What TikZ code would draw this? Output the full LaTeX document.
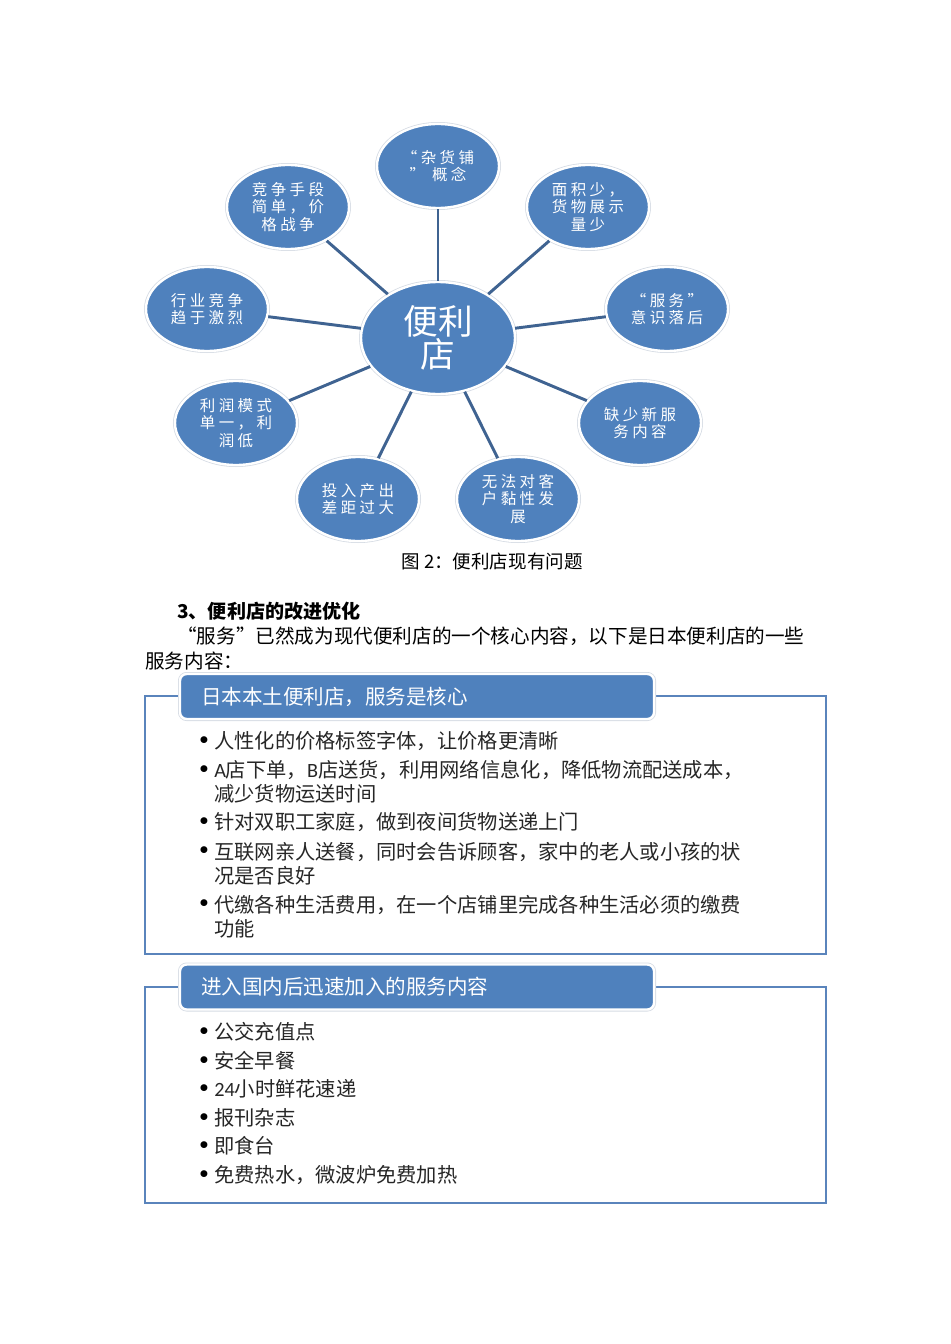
\documentclass[tikz,border=0pt]{standalone}
\usepackage{fontspec}
\setmainfont{Liberation Serif}
\newfontfamily\cjk{Noto Sans CJK SC}
\newfontfamily\cjkwide[LetterSpace=22]{Noto Sans CJK SC}
\newfontfamily\latin{Carlito}
\usetikzlibrary{shapes.geometric,positioning,calc}
\definecolor{blob}{HTML}{4F81BD}
\definecolor{spoke}{HTML}{3F6391}
\definecolor{frame}{HTML}{5A84BC}
\definecolor{body}{HTML}{262626}
\definecolor{glow}{HTML}{D6DCE4}

\begin{document}
\begin{tikzpicture}[
  x=0.75pt, y=-0.75pt,
  rim/.style={preaction={draw=glow, line width=3pt}, draw=white, line width=1.8pt},
  hub/.style={ellipse, rim, fill=blob, inner sep=0pt, minimum width=115.5pt, minimum height=84pt,
    align=center, text=white, font=\cjk\fontsize{26}{25}\selectfont},
  issue/.style={ellipse, rim, fill=blob, inner sep=0pt, minimum width=91.5pt, minimum height=63pt,
    align=center, text=white, font=\cjkwide\fontsize{11.6}{13}\selectfont},
  spoke/.style={draw=spoke, line width=2.2pt},
  txt/.style={inner sep=0pt, text=black, font=\cjk\fontsize{14.7}{17}\selectfont},
  panel/.style={draw=frame, line width=1.9pt, minimum width=510.75pt},
  tab/.style={rounded corners=5pt, rim, fill=blob, minimum width=355.5pt, minimum height=33.75pt,
    text width=324pt, inner xsep=15.75pt, align=left, text=white, font=\cjk\fontsize{15.4}{18}\selectfont},
  item/.style={anchor=base west, inner sep=0pt, align=left, text=body, font=\cjk\fontsize{15.2}{18}\selectfont},
  dot/.style={anchor=base, inner sep=0pt, text=black, font=\bfseries\fontsize{19}{20}\selectfont},
]
\useasboundingbox (0,0) rectangle (950,1344);
% problem map
\node[hub] (hub) at (438,338) {便利\\店};
\foreach \n/\x/\y/\t in {
  p1/438/166/{“杂货铺\\” 概念},
  p2/588/207/{面积少，\\货物展示\\量少},
  p3/667/309/{“服务”\\意识落后},
  p4/640/423/{缺少新服\\务内容},
  p5/518/499/{无法对客\\户黏性发\\展},
  p6/358/499/{投入产出\\差距过大},
  p7/236/423/{利润模式\\单一，利\\润低},
  p8/207/309/{行业竞争\\趋于激烈},
  p9/288/207/{竞争手段\\简单，价\\格战争}} {
  \node[issue] (\n) at (\x,\y) {\t};
  \draw[spoke] (hub) -- (\n);
}
\node[txt, font=\cjk\fontsize{13.9}{16}\selectfont] (cap) at (492,561) {图 2：便利店现有问题};
% section text
\node[txt, anchor=west, font=\cjk\bfseries\fontsize{14.3}{17}\selectfont] (head) at (177,611) {3、便利店的改进优化};
\node[txt, anchor=west] (par1) at (177,636) {“服务”已然成为现代便利店的一个核心内容，以下是日本便利店的一些};
\node[txt, anchor=west] (par2) at (145,661) {服务内容：};
% Japanese services (bullet line / last line / text)
\node[panel, minimum height=193.5pt] (panA) at (485.5,825) {};
\node[tab] (tabA) at (417,696.5) {日本本土便利店，服务是核心};
\foreach \y/\l/\t [count=\i] in {
  741/741/{人性化的价格标签字体，让价格更清晰},
  770/794/{{\latin A}店下单，{\latin B}店送货，利用网络信息化，降低物流配送成本，\\减少货物运送时间},
  822/822/{针对双职工家庭，做到夜间货物送递上门},
  851/876/{互联网亲人送餐，同时会告诉顾客，家中的老人或小孩的状\\况是否良好},
  904/929/{代缴各种生活费用，在一个店铺里完成各种生活必须的缴费\\功能}} {
  \node[dot] (ba\i) at (204,\y+7) {\textbullet};
  \node[item] (sa\i) at (214,\l+7) {\t};
}
% services added in China
\node[panel, minimum height=162pt] (panB) at (485.5,1095) {};
\node[tab] (tabB) at (417,987) {进入国内后迅速加入的服务内容};
\foreach \y/\t [count=\i] in {
  1032/{公交充值点},
  1061/{安全早餐},
  1089/{{\latin 24}小时鲜花速递},
  1118/{报刊杂志},
  1146/{即食台},
  1175/{免费热水，微波炉免费加热}} {
  \node[dot] (bb\i) at (204,\y+7) {\textbullet};
  \node[item] (sb\i) at (214,\y+7) {\t};
}
\end{tikzpicture}
\end{document}
